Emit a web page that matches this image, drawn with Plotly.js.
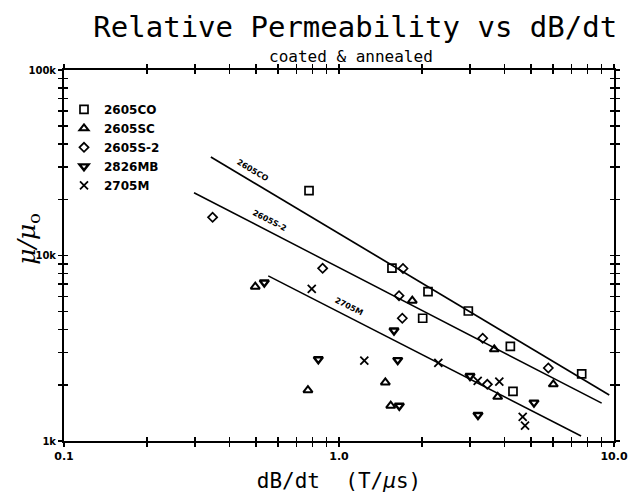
<!DOCTYPE html>
<html>
<head>
<meta charset="utf-8">
<script src="https://cdn.plot.ly/plotly-3.0.1.min.js"></script>
<style>html,body{margin:0;padding:0;background:#fff;}#chart{width:631px;height:493px;}</style>
</head>
<body>
<div id="chart"></div>
<script>
// ---- data ----
const co_x = [0.778, 1.558, 2.107, 2.015, 2.953, 4.198, 4.292, 7.63];
const co_y = [22350, 8560, 6380, 4590, 5020, 3240, 1850, 2300];

const sc_x = [0.496, 0.771, 1.847, 1.474, 1.542, 3.670, 3.776, 6.016];
const sc_y = [6790, 1880, 5710, 2070, 1550, 3120, 1730, 2020];

const s2_x = [0.347, 0.872, 1.709, 1.653, 1.699, 3.331, 3.462, 5.77];
const s2_y = [16070, 8530, 8510, 6070, 4590, 3580, 2020, 2475];

const mb_x = [0.535, 0.841, 1.585, 1.635, 1.657, 2.995, 3.202, 5.117];
const mb_y = [7150, 2760, 3940, 2730, 1550, 2240, 1380, 1610];

const m_x = [0.796, 1.236, 2.297, 3.194, 3.828, 4.656, 4.747];
const m_y = [6600, 2710, 2640, 2110, 2090, 1350, 1210];

// fitted trend lines (end points)
const co_line_x = [0.342, 9.61];
const co_line_y = [33960, 1770];
const s2_line_x = [0.297, 9.02];
const s2_line_y = [21800, 1600];
const m_line_x = [0.553, 7.59];
const m_line_y = [7760, 1064];

const series_names = ["2605CO", "2605SC", "2605S-2", "2826MB", "2705M"];
const line_labels = ["2605CO", "2605S-2", "2705M"];

// ticks
const x_tickvals = [0.1,0.2,0.3,0.4,0.5,0.6,0.7,0.8,0.9,1,2,3,4,5,6,7,8,9,10];
const x_ticktext = ["0.1","","","","","","","","","1.0","","","","","","","","","10.0"];
const y_tickvals = [1000,2000,3000,4000,5000,6000,7000,8000,9000,10000,20000,30000,40000,50000,60000,70000,80000,90000,100000];
const y_ticktext = ["1k","","","","","","","","","10k","","","","","","","","","100k"];

// ---- traces ----
const mk = (sym, size, lw) => ({symbol: sym, size: size, color: "black", line: {color: "black", width: lw}});
const traces = [
  {x: co_x, y: co_y, name: series_names[0], mode: "markers", type: "scatter", marker: mk("square-open", 8, 1.7)},
  {x: sc_x, y: sc_y, name: series_names[1], mode: "markers", type: "scatter", marker: mk("triangle-up-open", 8, 2)},
  {x: s2_x, y: s2_y, name: series_names[2], mode: "markers", type: "scatter", marker: mk("diamond-open", 7, 1.7)},
  {x: mb_x, y: mb_y, name: series_names[3], mode: "markers", type: "scatter", marker: mk("triangle-down-open", 8, 2.4)},
  {x: m_x, y: m_y, name: series_names[4], mode: "markers", type: "scatter", marker: mk("x-thin-open", 8, 1.8)},
  {x: co_line_x, y: co_line_y, mode: "lines", type: "scatter", showlegend: false, line: {color: "black", width: 1.7}, hoverinfo: "skip"},
  {x: s2_line_x, y: s2_line_y, mode: "lines", type: "scatter", showlegend: false, line: {color: "black", width: 1.5}, hoverinfo: "skip"},
  {x: m_line_x, y: m_line_y, mode: "lines", type: "scatter", showlegend: false, line: {color: "black", width: 1.5}, hoverinfo: "skip"},
  {x: [], y: [], xaxis: "x2", yaxis: "y2", mode: "markers", type: "scatter", showlegend: false, hoverinfo: "skip"}
];

// line labels placed along each line (log coordinates)
function labelAt(lx, ly, frac) {
  const a = Math.log10(lx[0]), b = Math.log10(lx[1]);
  const c = Math.log10(ly[0]), d = Math.log10(ly[1]);
  return [a + (b - a) * frac, c + (d - c) * frac];
}
const p1 = labelAt(co_line_x, co_line_y, 0.095);
const p2 = labelAt(s2_line_x, s2_line_y, 0.175);
const p3 = labelAt(m_line_x, m_line_y, 0.245);
const lblFont = {family: "DejaVu Sans", size: 8, color: "black", weight: "bold"};

const axBase = {
  type: "log", autorange: false, tickmode: "array",
  showgrid: false, zeroline: false, ticklen: 4, tickwidth: 1.5, tickcolor: "black"
};

const layout = {
  width: 631, height: 493,
  paper_bgcolor: "white", plot_bgcolor: "white",
  margin: {l: 64, r: 17, t: 70, b: 52},
  title: {
    text: "Relative Permeability vs dB/dt",
    font: {family: "DejaVu Sans Mono", size: 29, color: "black"},
    xref: "container", x: 0.563, xanchor: "center",
    yref: "container", y: 0.945, yanchor: "middle"
  },
  xaxis: Object.assign({}, axBase, {
    range: [-1, 1], tickvals: x_tickvals, ticktext: x_ticktext,
    ticks: "outside", mirror: "allticks", showline: true, linewidth: 2, linecolor: "black",
    tickfont: {family: "DejaVu Sans", size: 11, color: "black", weight: "bold"},
    title: {text: "dB/dt  (T/<i>μ</i>s)", font: {family: "DejaVu Sans Mono", size: 21, color: "black"}, standoff: 15}
  }),
  yaxis: Object.assign({}, axBase, {
    range: [3, 5], tickvals: y_tickvals, ticktext: y_ticktext,
    ticks: "outside", mirror: "allticks", showline: true, linewidth: 2, linecolor: "black",
    tickfont: {family: "DejaVu Sans", size: 10, color: "black", weight: "bold"}
  }),
  xaxis2: Object.assign({}, axBase, {
    range: [-1, 1], tickvals: x_tickvals, overlaying: "x", anchor: "y2",
    ticks: "inside", mirror: "allticks", showline: false, showticklabels: false
  }),
  yaxis2: Object.assign({}, axBase, {
    range: [3, 5], tickvals: y_tickvals, overlaying: "y", anchor: "x2",
    ticks: "inside", mirror: "allticks", showline: false, showticklabels: false
  }),
  showlegend: true,
  legend: {
    x: 0.0, y: 0.933, xanchor: "left", yanchor: "top",
    bgcolor: "rgba(0,0,0,0)", borderwidth: 0,
    font: {family: "DejaVu Sans", size: 12, color: "black", weight: "bold"},
    itemwidth: 30, tracegroupgap: 0
  },
  annotations: [
    {x: 0.522, y: 1.0377, xref: "paper", yref: "paper", yanchor: "middle", showarrow: false,
     text: "coated & annealed", font: {family: "DejaVu Sans Mono", size: 16, color: "black"}},
    {x: -0.0655, y: 0.545, xref: "paper", yref: "paper", xanchor: "center", yanchor: "middle", showarrow: false,
     textangle: -90, text: "<i>μ/μ</i><sub>o</sub>", font: {family: "DejaVu Serif", size: 25, color: "black"}},
    {x: p1[0], y: p1[1], xref: "x", yref: "y", text: line_labels[0], showarrow: false, textangle: 31, yshift: 9, xshift: 4, font: lblFont},
    {x: p2[0], y: p2[1], xref: "x", yref: "y", text: line_labels[1], showarrow: false, textangle: 27, yshift: 9, xshift: 4, font: lblFont},
    {x: p3[0], y: p3[1], xref: "x", yref: "y", text: line_labels[2], showarrow: false, textangle: 27, yshift: 9, xshift: 4, font: lblFont}
  ]
};

Plotly.newPlot("chart", traces, layout, {displayModeBar: false, staticPlot: true});
</script>
</body>
</html>
